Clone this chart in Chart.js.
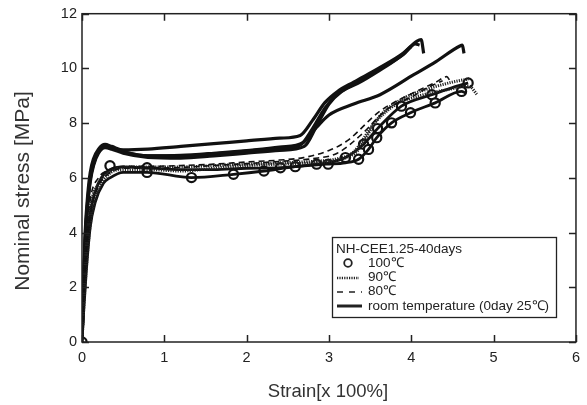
<!DOCTYPE html>
<html>
<head>
<meta charset="utf-8">
<script src="https://cdn.jsdelivr.net/npm/chart.js@4.4.1/dist/chart.umd.min.js"></script>
<style>
html,body{margin:0;padding:0;background:#fff;}
#wrap{width:587px;height:405px;position:relative;}
</style>
</head>
<body>
<div id="wrap"><canvas id="c" width="587" height="405"></canvas></div>
<script>
// ---- Data (strain [x100%], nominal stress [MPa]) ----
const xTicks = [0, 1, 2, 3, 4, 5, 6];
const yTicks = [0, 2, 4, 6, 8, 10, 12];

// room temperature (0day 25℃)
const rtAx = [0, 0.02, 0.04, 0.07, 0.1, 0.14, 0.2, 0.28, 0.36, 0.5, 0.8, 1.2, 1.6, 2.0, 2.4, 2.65, 2.8, 2.95, 3.1, 3.3, 3.6, 3.9, 4.07, 4.12, 4.15];
const rtAy = [0, 2.4, 4.1, 5.4, 6.2, 6.7, 7.05, 7.22, 7.15, 7.02, 7.05, 7.15, 7.25, 7.35, 7.45, 7.55, 8.1, 8.75, 9.15, 9.5, 10.0, 10.55, 11.0, 11.05, 10.55];
const rtBx = [0, 0.02, 0.04, 0.07, 0.1, 0.14, 0.2, 0.28, 0.36, 0.5, 0.8, 1.2, 1.6, 2.0, 2.4, 2.65, 2.8, 2.95, 3.1, 3.3, 3.6, 3.9, 4.05, 4.1];
const rtBy = [0, 2.2, 3.9, 5.2, 6.0, 6.55, 6.95, 7.15, 7.1, 6.95, 6.8, 6.8, 6.88, 6.98, 7.08, 7.2, 7.8, 8.55, 9.05, 9.42, 9.95, 10.5, 10.9, 10.85];
const rtCx = [0, 0.02, 0.04, 0.07, 0.1, 0.14, 0.2, 0.28, 0.36, 0.5, 0.8, 1.2, 1.6, 2.0, 2.4, 2.7, 2.85, 3.0, 3.15, 3.35, 3.6, 3.85, 4.0];
const rtCy = [0, 2.0, 3.7, 5.0, 5.85, 6.45, 6.9, 7.1, 7.05, 6.9, 6.75, 6.72, 6.8, 6.9, 7.0, 7.15, 7.9, 8.7, 9.15, 9.45, 9.9, 10.4, 10.8];
const rtDx = [0, 0.02, 0.04, 0.07, 0.1, 0.14, 0.2, 0.28, 0.36, 0.5, 0.8, 1.2, 1.6, 2.0, 2.4, 2.69, 2.85, 3.0, 3.3, 3.62, 4.03, 4.3, 4.59, 4.62, 4.64];
const rtDy = [0, 2.1, 3.8, 5.1, 5.95, 6.5, 6.95, 7.15, 7.08, 6.95, 6.8, 6.82, 6.9, 7.0, 7.12, 7.3, 7.85, 8.3, 8.7, 9.04, 9.77, 10.25, 10.82, 10.85, 10.55];

// 80℃ (dashed)
const t80Ax = [0, 0.02, 0.05, 0.1, 0.2, 0.3, 0.5, 0.8, 1.2, 1.6, 2.0, 2.4, 2.69, 3.0, 3.22, 3.62, 4.02, 4.3, 4.43, 4.47];
const t80Ay = [0, 2.0, 3.7, 5.2, 6.0, 6.25, 6.42, 6.42, 6.45, 6.5, 6.58, 6.65, 6.74, 7.0, 7.35, 8.44, 9.1, 9.5, 9.7, 9.55];
const t80Bx = [0, 0.02, 0.05, 0.1, 0.2, 0.3, 0.5, 0.8, 1.2, 1.6, 2.0, 2.4, 2.8, 3.1, 3.4, 3.7, 4.0, 4.2, 4.38];
const t80By = [0, 1.6, 3.1, 4.6, 5.7, 6.1, 6.35, 6.35, 6.38, 6.45, 6.52, 6.6, 6.7, 6.9, 7.6, 8.5, 8.95, 9.3, 9.55];

// 90℃ (dotted)
const t90Ax = [0, 0.02, 0.05, 0.1, 0.2, 0.3, 0.5, 0.8, 1.2, 1.6, 2.0, 2.4, 2.8, 3.1, 3.3, 3.54, 3.82, 4.1, 4.43, 4.7, 4.8];
const t90Ay = [0, 1.8, 3.4, 4.9, 5.8, 6.15, 6.38, 6.4, 6.4, 6.45, 6.5, 6.55, 6.6, 6.7, 6.95, 7.96, 8.7, 9.0, 9.22, 9.35, 9.04];
const t90Bx = [0, 0.02, 0.05, 0.1, 0.16, 0.26, 0.46, 0.8, 1.2, 1.6, 2.0, 2.4, 2.8, 3.1, 3.35, 3.6, 3.9, 4.2, 4.5, 4.7];
const t90By = [0, 1.2, 2.6, 4.3, 5.2, 5.9, 6.3, 6.3, 6.25, 6.35, 6.45, 6.5, 6.55, 6.65, 7.0, 8.2, 8.9, 9.25, 9.5, 9.62];

// 100℃ (lines + circle markers)
const t100Ax = [0, 0.02, 0.05, 0.1, 0.16, 0.26, 0.34, 0.5, 0.79, 1.33, 1.84, 2.21, 2.59, 2.97, 3.2, 3.36, 3.48, 3.58, 3.76, 3.99, 4.29, 4.61, 4.66];
const t100Ay = [0, 1.1, 2.5, 4.2, 5.1, 5.8, 6.0, 6.2, 6.2, 6.01, 6.13, 6.25, 6.41, 6.5, 6.55, 6.68, 7.04, 7.47, 8.01, 8.38, 8.74, 9.16, 9.1];
const t100Bx = [0, 0.02, 0.05, 0.1, 0.2, 0.34, 0.5, 0.79, 1.2, 1.6, 2.0, 2.41, 2.85, 3.0, 3.2, 3.42, 3.59, 3.88, 4.25, 4.5, 4.69];
const t100By = [0, 1.5, 3.1, 4.7, 5.8, 6.3, 6.4, 6.37, 6.3, 6.3, 6.35, 6.37, 6.5, 6.55, 6.74, 7.23, 7.8, 8.62, 9.04, 9.3, 9.47];
const m100x = [0, 0.34, 0.79, 0.79, 1.33, 1.84, 2.21, 2.41, 2.59, 2.85, 2.99, 3.2, 3.36, 3.42, 3.48, 3.58, 3.59, 3.76, 3.88, 3.99, 4.25, 4.29, 4.61, 4.69];
const m100y = [0, 6.44, 6.37, 6.2, 6.01, 6.13, 6.25, 6.37, 6.41, 6.5, 6.5, 6.74, 6.68, 7.23, 7.04, 7.47, 7.8, 8.01, 8.62, 8.38, 9.04, 8.74, 9.16, 9.47];

const legendTitle = 'NH-CEE1.25-40days';
const legendLabels = ['100℃', '90℃', '80℃', 'room temperature (0day 25℃)'];
const xTitle = 'Strain[x 100%]';
const yTitle = 'Nominal stress [MPa]';

// ---- build datasets ----
const pts = (xs, ys) => xs.map((x, i) => ({x, y: ys[i]}));
const lineDs = (xs, ys, extra) => Object.assign({
  data: pts(xs, ys), borderColor: '#111', borderWidth: 3, pointRadius: 0,
  fill: false, cubicInterpolationMode: 'monotone', showLine: true
}, extra || {});

const datasets = [
  lineDs(t80Ax, t80Ay, {borderWidth: 1.6, borderDash: [6, 4]}),
  lineDs(t80Bx, t80By, {borderWidth: 1.6, borderDash: [6, 4]}),
  lineDs(t90Ax, t90Ay, {borderWidth: 3, borderDash: [1.2, 1.2], borderColor: '#222'}),
  lineDs(t90Bx, t90By, {borderWidth: 3, borderDash: [1.2, 1.2], borderColor: '#222'}),
  lineDs(t100Ax, t100Ay, {borderWidth: 2.8}),
  lineDs(t100Bx, t100By, {borderWidth: 2.8}),
  {data: pts(m100x, m100y), showLine: false, pointRadius: 4.6, pointBorderWidth: 2.2,
   pointBorderColor: '#111', pointBackgroundColor: '#fff', pointStyle: 'circle'},
  lineDs(rtAx, rtAy, {borderWidth: 3.2}),
  lineDs(rtBx, rtBy, {borderWidth: 3.2}),
  lineDs(rtCx, rtCy, {borderWidth: 3.2}),
  lineDs(rtDx, rtDy, {borderWidth: 3.2}),
];

const FONT = '"Liberation Sans", Arial, sans-serif';

const framePlugin = {
  id: 'frame',
  afterDatasetsDraw(chart) {
    const {ctx, chartArea: a, scales} = chart;
    ctx.save();
    ctx.strokeStyle = '#222';
    ctx.lineWidth = 1.5;
    ctx.strokeRect(a.left, a.top, a.right - a.left, a.bottom - a.top);
    const L = 7;
    ctx.beginPath();
    xTicks.forEach(v => {
      const px = Math.round(scales.x.getPixelForValue(v)) + 0.5;
      ctx.moveTo(px, a.bottom); ctx.lineTo(px, a.bottom - L);
      ctx.moveTo(px, a.top); ctx.lineTo(px, a.top + L);
    });
    yTicks.forEach(v => {
      const py = Math.round(scales.y.getPixelForValue(v)) + 0.5;
      ctx.moveTo(a.left, py); ctx.lineTo(a.left + L, py);
      ctx.moveTo(a.right, py); ctx.lineTo(a.right - L, py);
    });
    ctx.stroke();

    // axis titles
    ctx.fillStyle = '#333';
    ctx.textAlign = 'center';
    ctx.textBaseline = 'middle';
    ctx.font = '18.5px ' + FONT;
    ctx.fillText(xTitle, 328, 392);
    ctx.save();
    ctx.translate(23, 191);
    ctx.rotate(-Math.PI / 2);
    ctx.font = '21px ' + FONT;
    ctx.fillText(yTitle, 0, 0);
    ctx.restore();

    // legend
    const bx = 332, by = 237, bw = 224, bh = 80;
    ctx.fillStyle = '#fff';
    ctx.fillRect(bx, by, bw, bh);
    ctx.strokeStyle = '#222';
    ctx.lineWidth = 1.3;
    ctx.strokeRect(bx + 0.5, by + 0.5, bw, bh);
    ctx.fillStyle = '#222';
    ctx.font = '13.5px ' + FONT;
    ctx.textAlign = 'left';
    ctx.fillText(legendTitle, 336, 249.5);
    const rows = [263, 277, 291, 306];
    legendLabels.forEach((t, i) => ctx.fillText(t, 368, rows[i]));
    // symbols
    ctx.lineWidth = 1.8;
    ctx.beginPath(); ctx.arc(348, rows[0], 3.8, 0, Math.PI * 2); ctx.stroke();
    ctx.lineWidth = 2.5; ctx.setLineDash([1.2, 1.2]);
    ctx.beginPath(); ctx.moveTo(337, rows[1] + 1); ctx.lineTo(359, rows[1] + 1); ctx.stroke();
    ctx.lineWidth = 1.5; ctx.setLineDash([6, 6]);
    ctx.beginPath(); ctx.moveTo(337, rows[2] + 1); ctx.lineTo(362, rows[2] + 1); ctx.stroke();
    ctx.setLineDash([]); ctx.lineWidth = 3;
    ctx.beginPath(); ctx.moveTo(337, rows[3]); ctx.lineTo(362, rows[3]); ctx.stroke();
    ctx.restore();
  }
};

new Chart(document.getElementById('c'), {
  type: 'scatter',
  data: {datasets},
  options: {
    responsive: false,
    animation: false,
    layout: {padding: {top: 12, right: 11, left: 0, bottom: 0}},
    plugins: {legend: {display: false}, tooltip: {enabled: false}},
    scales: {
      x: {
        type: 'linear', min: 0, max: 6,
        afterFit: s => { s.height = 63; },
        afterBuildTicks: s => { s.ticks = xTicks.map(v => ({value: v})); },
        grid: {display: false, drawTicks: false},
        border: {display: false},
        ticks: {color: '#222', font: {size: 14.5, family: FONT}, padding: 7, maxRotation: 0}
      },
      y: {
        type: 'linear', min: 0, max: 12,
        afterFit: s => { s.width = 82; },
        afterBuildTicks: s => { s.ticks = yTicks.map(v => ({value: v})); },
        grid: {display: false, drawTicks: false},
        border: {display: false},
        ticks: {color: '#222', font: {size: 14.5, family: FONT}, padding: 5}
      }
    }
  },
  plugins: [framePlugin]
});
</script>
</body>
</html>
